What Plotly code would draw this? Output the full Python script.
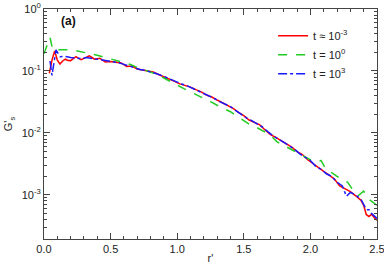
import plotly.graph_objects as go

# Data
r_red = [0.04, 0.06, 0.08, 0.10, 0.12, 0.14, 0.16, 0.18, 0.20, 0.22, 0.24, 0.26, 0.28, 0.30,
         0.32, 0.34, 0.36, 0.38, 0.40, 0.42, 0.44, 0.46, 0.50, 0.54, 0.58, 0.62, 0.66, 0.70,
         0.74, 0.78, 0.82, 0.86, 0.90, 0.94, 0.98, 1.02, 1.06, 1.10, 1.14, 1.18, 1.22, 1.26,
         1.30, 1.34, 1.38, 1.42, 1.46, 1.50, 1.54, 1.58, 1.62, 1.66, 1.70, 1.74, 1.78, 1.82,
         1.86, 1.90, 1.94, 1.98, 2.02, 2.06, 2.10, 2.14, 2.18, 2.22, 2.26, 2.30, 2.34, 2.38,
         2.40, 2.42, 2.44, 2.46, 2.48, 2.50]
g_red = [0.092, 0.15, 0.21, 0.15, 0.13, 0.145, 0.155, 0.148, 0.147, 0.16, 0.17, 0.16, 0.152, 0.16,
         0.168, 0.175, 0.165, 0.155, 0.158, 0.16, 0.15, 0.14, 0.142, 0.138, 0.135, 0.118, 0.12, 0.108,
         0.104, 0.099, 0.096, 0.088, 0.081, 0.076, 0.068, 0.062, 0.059, 0.055, 0.050, 0.046, 0.041, 0.038,
         0.034, 0.031, 0.028, 0.025, 0.0215, 0.019, 0.0162, 0.0148, 0.0135, 0.0112, 0.0094, 0.0085, 0.0075, 0.0066,
         0.0059, 0.0050, 0.0045, 0.0037, 0.0032, 0.0027, 0.0024, 0.0021, 0.0018, 0.0014, 0.00125, 0.00113, 0.00097, 0.00082,
         0.00068, 0.00048, 0.00045, 0.00049, 0.00043, 0.00039]

r_green = [0.00, 0.02, 0.045, 0.065, 0.10, 0.15, 0.20, 0.25, 0.30, 0.35, 0.40, 0.45, 0.50, 0.55,
           0.60, 0.65, 0.70, 0.75, 0.80, 0.85, 0.90, 0.95, 1.00, 1.05, 1.10, 1.15, 1.20, 1.25,
           1.30, 1.35, 1.40, 1.45, 1.50, 1.55, 1.60, 1.65, 1.70, 1.75, 1.80, 1.85, 1.90, 1.95,
           2.00, 2.05, 2.08, 2.12, 2.16, 2.20, 2.25, 2.28, 2.32, 2.36, 2.40, 2.44, 2.50]
g_green = [0.19, 0.25, 0.35, 0.22, 0.22, 0.215, 0.22, 0.21, 0.20, 0.192, 0.18, 0.168, 0.156, 0.146,
           0.136, 0.127, 0.114, 0.105, 0.097, 0.088, 0.077, 0.067, 0.060, 0.052, 0.046, 0.041, 0.037, 0.032,
           0.028, 0.025, 0.022, 0.0185, 0.016, 0.0135, 0.0122, 0.0105, 0.0092, 0.0072, 0.0063, 0.0056, 0.0048, 0.0042,
           0.0037, 0.0034, 0.0036, 0.0025, 0.0023, 0.0020, 0.0017, 0.0016, 0.0012, 0.00098, 0.00115, 0.00085, 0.00068]

r_blue = [0.045, 0.06, 0.08, 0.09, 0.12, 0.16, 0.20, 0.24, 0.28, 0.32, 0.36, 0.40, 0.44, 0.48,
          0.52, 0.56, 0.60, 0.64, 0.68, 0.72, 0.76, 0.80, 0.84, 0.88, 0.92, 0.96, 1.00, 1.04,
          1.08, 1.12, 1.16, 1.20, 1.24, 1.28, 1.32, 1.36, 1.40, 1.44, 1.48, 1.52, 1.56, 1.60,
          1.64, 1.68, 1.72, 1.76, 1.80, 1.84, 1.88, 1.92, 1.96, 2.00, 2.04, 2.08, 2.12, 2.16,
          2.20, 2.24, 2.27, 2.30, 2.34, 2.38, 2.42, 2.44, 2.46, 2.48, 2.50]
g_blue = [0.145, 0.085, 0.16, 0.22, 0.17, 0.172, 0.165, 0.162, 0.158, 0.165, 0.16, 0.155, 0.148, 0.142,
          0.14, 0.136, 0.128, 0.12, 0.112, 0.106, 0.102, 0.097, 0.091, 0.085, 0.078, 0.072, 0.065, 0.061,
          0.057, 0.052, 0.048, 0.043, 0.039, 0.036, 0.032, 0.029, 0.0265, 0.023, 0.020, 0.0175, 0.0158, 0.014,
          0.0125, 0.0105, 0.009, 0.008, 0.0071, 0.0063, 0.0055, 0.0046, 0.0041, 0.0036, 0.0029, 0.0026, 0.0022, 0.0020,
          0.0016, 0.0014, 0.00095, 0.0011, 0.0010, 0.00085, 0.00058, 0.00058, 0.00050, 0.00046, 0.00042]

names = ["t \u2248 10<sup>-3</sup>", "t = 10<sup>0</sup>", "t = 10<sup>3</sup>"]

y_tick_vals = [1e-3, 1e-2, 1e-1, 1]
y_tick_text = ["10<sup>-3</sup>", "10<sup>-2</sup>", "10<sup>-1</sup>", "10<sup>0</sup>"]

FONT = "Liberation Sans, Arial, sans-serif"
AX = "#444444"

fig = go.Figure()
fig.add_trace(go.Scatter(x=r_red, y=g_red, mode="lines", name=names[0],
                         line=dict(color="#ff0000", width=1.5)))
fig.add_trace(go.Scatter(x=r_green, y=g_green, mode="lines", name=names[1],
                         line=dict(color="#22cc22", width=1.5, dash="dash")))
fig.add_trace(go.Scatter(x=r_blue, y=g_blue, mode="lines", name=names[2],
                         line=dict(color="#1a1aff", width=1.5, dash="dashdot")))

fig.update_layout(
    width=384, height=266,
    margin=dict(l=44, r=7, t=9, b=27, autoexpand=False),
    paper_bgcolor="white", plot_bgcolor="white",
    font=dict(family=FONT, size=11, color="#222222"),
    showlegend=True,
    legend=dict(x=0.688, y=0.947, xanchor="left", yanchor="top",
                bgcolor="rgba(0,0,0,0)", font=dict(size=11),
                itemwidth=30, tracegroupgap=0),
    annotations=[dict(text="<b>(a)</b>", x=0.045, y=0.987, xref="paper", yref="paper",
                      xanchor="left", yanchor="top", showarrow=False,
                      font=dict(size=12, color="#111111"))],
)

fig.update_xaxes(
    range=[0, 2.5], tickmode="linear", tick0=0, dtick=0.5, tickformat=".1f",
    ticks="inside", ticklen=6, tickcolor=AX, showline=True, linecolor=AX, linewidth=1,
    mirror="ticks", showgrid=False, zeroline=False, automargin=False,
    ticklabeloverflow="allow",
    minor=dict(ticks="inside", ticklen=3, dtick=0.1, tickcolor=AX, showgrid=False),
    title=dict(text="r'", standoff=0, font=dict(size=11)),
)
fig.update_yaxes(
    type="log", range=[-3.71, 0], tickmode="array", tickvals=y_tick_vals, ticktext=y_tick_text,
    ticks="inside", ticklen=6, tickcolor=AX, showline=True, linecolor=AX, linewidth=1,
    mirror="ticks", showgrid=False, zeroline=False, automargin=False,
    ticklabeloverflow="allow",
    minor=dict(ticks="inside", ticklen=3, dtick="D1", tickcolor=AX, showgrid=False),
    title=dict(text="G'<sub>s</sub>", standoff=6, font=dict(size=11)),
)

fig.write_html("out.html", config={"displayModeBar": False},
               post_script="document.body.style.margin='0';")
